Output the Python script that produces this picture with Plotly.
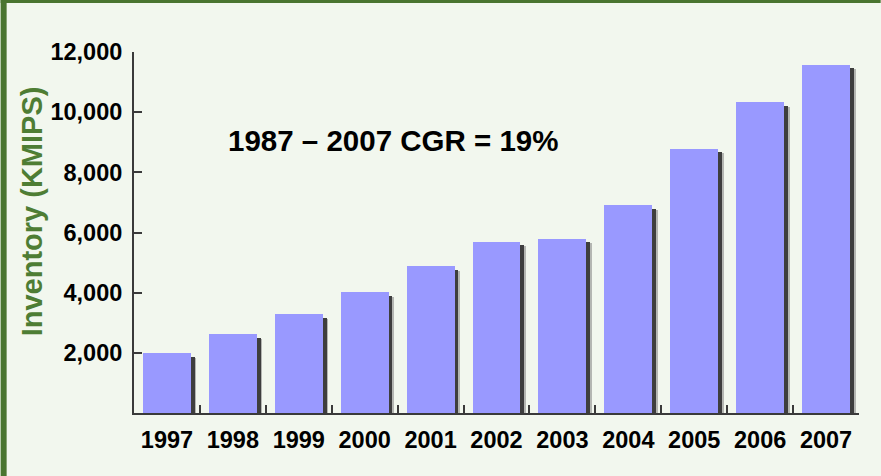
import plotly.graph_objects as go

years = ["1997", "1998", "1999", "2000", "2001", "2002", "2003", "2004", "2005", "2006", "2007"]
inventory = [1980, 2610, 3290, 4010, 4880, 5700, 5800, 6910, 8780, 10330, 11580]
y_ticks = [2000, 4000, 6000, 8000, 10000, 12000]
y_tick_text = ["2,000", "4,000", "6,000", "8,000", "10,000", "12,000"]

W, H = 881, 476
L, R, T, B = 133.5, 21.7, 52, 63
pw, ph = W - L - R, H - T - B
upp = 12000 / ph  # data units per pixel

bw = 0.727
fig = go.Figure()
# soft shadow layers
fig.add_trace(go.Bar(x=years, y=inventory, base=-4.5 * upp, width=bw, offset=-bw / 2 + 5.5 / 66,
                     marker=dict(color="#b4b6b2", line=dict(width=0)), hoverinfo="skip"))
fig.add_trace(go.Bar(x=years, y=inventory, base=-3.5 * upp, width=bw, offset=-bw / 2 + 3.8 / 66,
                     marker=dict(color="#3e3e3e", line=dict(width=0)), hoverinfo="skip"))
fig.add_trace(go.Bar(x=years, y=inventory, width=bw, offset=-bw / 2,
                     marker=dict(color="#9999ff", line=dict(width=0))))

font_fam = "Arial, Liberation Sans, sans-serif"

def px_x(p):
    return (p - L) / pw

def px_y(p):
    return (H - B - p) / ph

fig.update_layout(
    width=W, height=H,
    margin=dict(l=L, r=R, t=T, b=B, pad=0),
    paper_bgcolor="#f2f7ee", plot_bgcolor="#f2f7ee",
    barmode="overlay", showlegend=False, bargap=0,
    font=dict(family=font_fam, color="black"),
    xaxis=dict(
        type="category", range=[-0.5, 10.5], showline=True, linecolor="#3a3a3a", linewidth=2,
        ticks="inside", tickson="boundaries", ticklen=8, tickcolor="#3a3a3a", tickwidth=1.5,
        tickfont=dict(size=23.5, weight="bold", family=font_fam, color="black"),
        ticklabelstandoff=5, showgrid=False, zeroline=False,
    ),
    yaxis=dict(
        range=[0, 12000], showline=True, linecolor="#3a3a3a", linewidth=2,
        tickvals=y_ticks, ticktext=y_tick_text,
        ticks="inside", ticklen=8, tickcolor="#3a3a3a", tickwidth=2,
        tickfont=dict(size=23.5, weight="bold", family=font_fam, color="black"),
        ticklabelstandoff=5, showgrid=False, zeroline=False,
    ),
    shapes=[
        dict(type="rect", xref="paper", yref="paper", x0=px_x(0), x1=px_x(6), y0=px_y(H), y1=px_y(0),
             fillcolor="#4a7530", line=dict(width=0), layer="above"),
        dict(type="rect", xref="paper", yref="paper", x0=px_x(0), x1=px_x(W), y0=px_y(3), y1=px_y(0),
             fillcolor="#4a7530", line=dict(width=0), layer="above"),
    ],
    annotations=[
        dict(text="Inventory (KMIPS)", xref="paper", yref="paper", x=px_x(31), y=px_y(211.7),
             showarrow=False, textangle=-90, xanchor="center", yanchor="middle",
             font=dict(size=29, weight="bold", color="#4e7d34", family=font_fam)),
        dict(text="1987 – 2007 CGR = 19%", xref="paper", yref="paper", x=px_x(393), y=px_y(140),
             showarrow=False, xanchor="center", yanchor="middle",
             font=dict(size=29.5, weight="bold", color="black", family=font_fam)),
    ],
)

fig.write_html("out.html", config={"displayModeBar": False},
               post_script="document.body.style.margin='0';document.body.style.overflow='hidden';")
